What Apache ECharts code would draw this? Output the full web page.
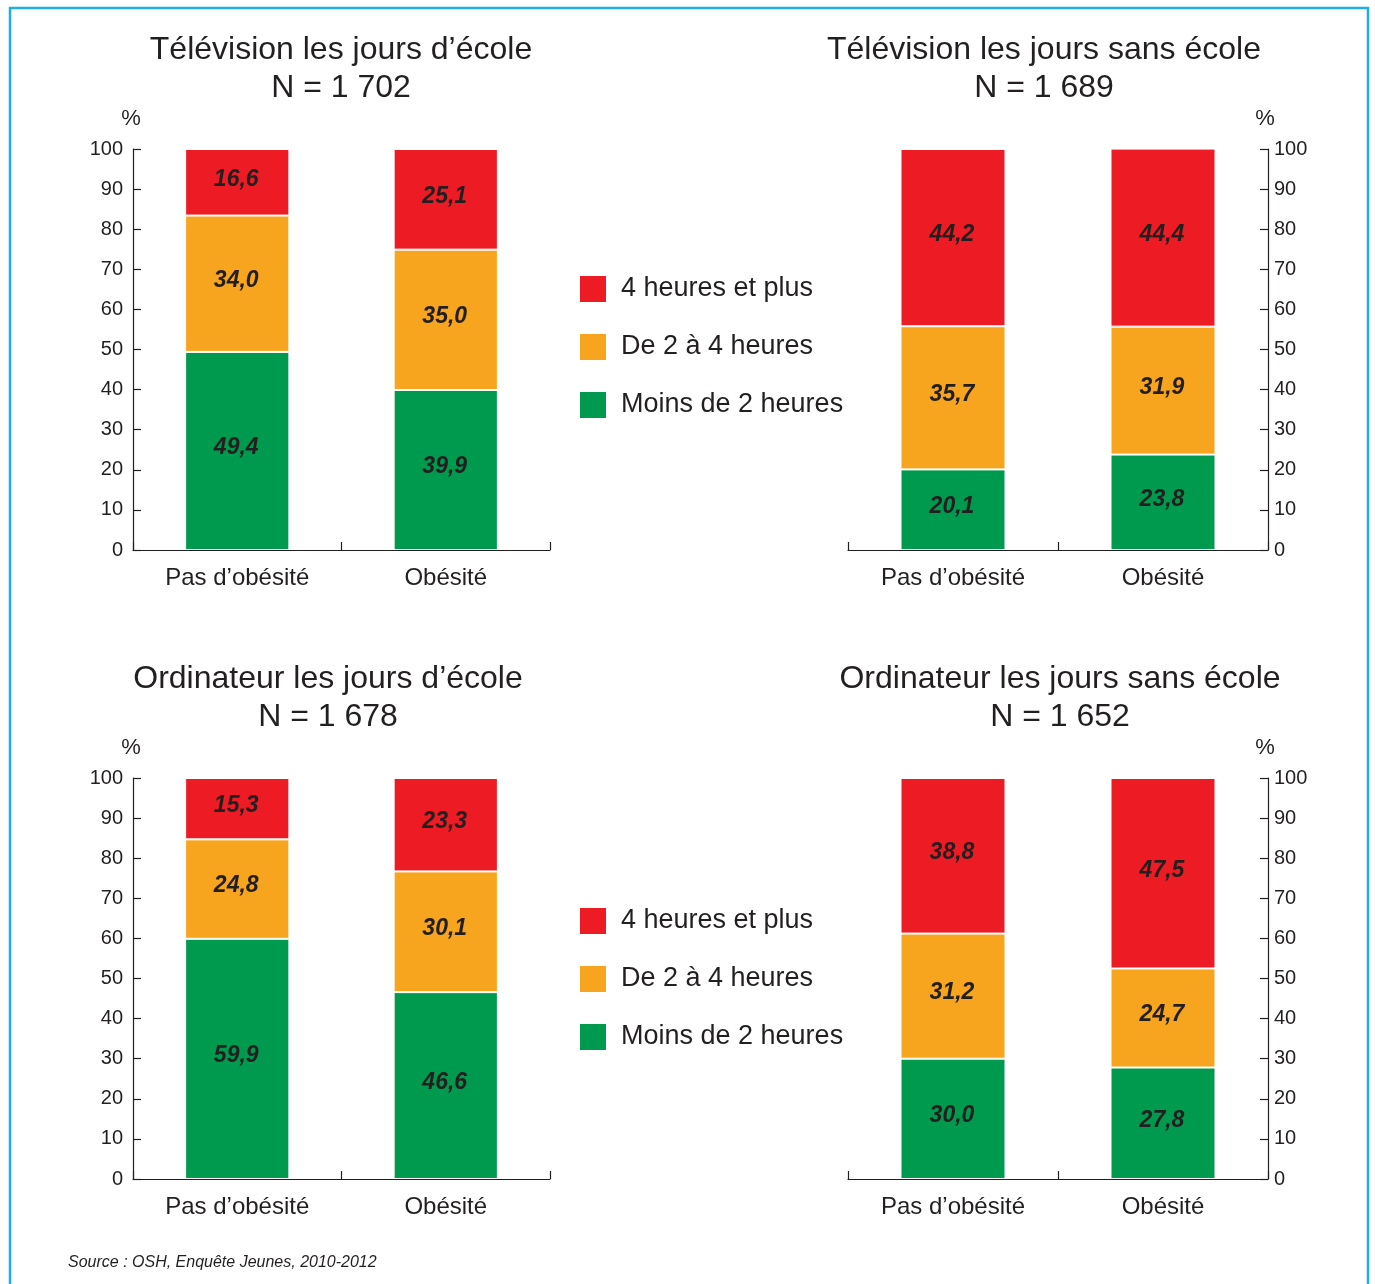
<!DOCTYPE html>
<html lang="fr">
<head>
<meta charset="utf-8">
<title>Temps d'écran et obésité</title>
<script src="https://cdn.jsdelivr.net/npm/echarts@6/dist/echarts.min.js"></script>
<style>
  html, body { margin: 0; padding: 0; background: #fff; }
  #chart { width: 1375px; height: 1284px; }
</style>
</head>
<body>
<div id="chart"></div>
<script>
// Categories and tick labels
const categories = ['Pas d’obésité', 'Obésité'];
const yTicks = [0, 10, 20, 30, 40, 50, 60, 70, 80, 90, 100];

// Panels: TV school days, TV non-school days, computer school days, computer non-school days
const panelTitles = [
  'Télévision les jours d’école',
  'Télévision les jours sans école',
  'Ordinateur les jours d’école',
  'Ordinateur les jours sans école'
];
const panelN = ['N = 1 702', 'N = 1 689', 'N = 1 678', 'N = 1 652'];

// Shares (%) per panel, [Pas d'obésité, Obésité]
const moinsDe2h = [[49.4, 39.9], [20.1, 23.8], [59.9, 46.6], [30.0, 27.8]];
const de2a4h    = [[34.0, 35.0], [35.7, 31.9], [24.8, 30.1], [31.2, 24.7]];
const plusDe4h  = [[16.6, 25.1], [44.2, 44.4], [15.3, 23.3], [38.8, 47.5]];

const seriesNames = ['Moins de 2 heures', 'De 2 à 4 heures', '4 heures et plus'];
const legendOrder = ['4 heures et plus', 'De 2 à 4 heures', 'Moins de 2 heures'];
const colors = { 'Moins de 2 heures': '#009A4E', 'De 2 à 4 heures': '#F7A51E', '4 heures et plus': '#ED1C24' };

const ink = '#231F20';
const font = '"Liberation Sans", Arial, Helvetica, sans-serif';

// Layout of the four plotting areas
const grids = [
  { left: 133, top: 149, width: 417, height: 401 },
  { left: 848, top: 149, width: 420, height: 401 },
  { left: 133, top: 778, width: 417, height: 401 },
  { left: 848, top: 778, width: 420, height: 401 }
];
const titleCenters = [341, 1044, 328, 1060];
const titleTops = [31, 31, 660, 660];

const chart = echarts.init(document.getElementById('chart'), null, { renderer: 'canvas' });

const fmt = v => v.toFixed(1).replace('.', ',');

const xAxes = grids.map((g, i) => ({
  type: 'category',
  gridIndex: i,
  data: categories,
  axisLine: { show: true, lineStyle: { color: ink, width: 1.2 } },
  axisTick: { show: true, inside: true, length: 8, lineStyle: { color: ink, width: 1.2 } },
  axisLabel: { color: ink, fontSize: 24, fontFamily: font, margin: 16 }
}));

const yAxes = grids.map((g, i) => ({
  type: 'value',
  gridIndex: i,
  position: (i % 2 === 0) ? 'left' : 'right',
  min: 0, max: 100, interval: 10,
  name: '%',
  nameLocation: 'end',
  nameGap: 19,
  nameTextStyle: {
    color: ink, fontSize: 22, fontFamily: font, align: 'center',
    padding: (i % 2 === 0) ? [0, 4, 0, 0] : [0, 6, 0, 0]
  },
  axisLine: { show: true, lineStyle: { color: ink, width: 1.2 } },
  axisTick: { show: true, inside: true, length: 8, lineStyle: { color: ink, width: 1.2 } },
  axisLabel: {
    color: ink, fontSize: 20, fontFamily: font, margin: (i % 2 === 0) ? 10 : 6,
    formatter: v => yTicks.includes(v) ? String(v) : ''
  },
  splitLine: { show: false }
}));

const stacks = [moinsDe2h, de2a4h, plusDe4h];
const series = [];
grids.forEach((g, p) => {
  seriesNames.forEach((name, s) => {
    series.push({
      name,
      type: 'bar',
      xAxisIndex: p,
      yAxisIndex: p,
      stack: 'panel' + p,
      barWidth: '50%',
      data: stacks[s][p],
      itemStyle: { color: colors[name], borderColor: '#fff', borderWidth: 1 },
      label: {
        show: true,
        position: 'inside',
        offset: [-1, -3],
        color: ink,
        fontSize: 23,
        fontWeight: 'bold',
        fontStyle: 'italic',
        fontFamily: font,
        formatter: d => fmt(d.value)
      },
      emphasis: { disabled: true }
    });
  });
});

const titles = panelTitles.map((t, i) => ({
  text: t + '\n' + panelN[i],
  left: titleCenters[i],
  top: titleTops[i],
  padding: 0,
  textAlign: 'center',
  textStyle: { color: ink, fontSize: 32, fontWeight: 'normal', fontFamily: font, lineHeight: 38, align: 'center' }
}));

const legendCommon = {
  orient: 'vertical',
  left: 578,
  padding: 0,
  data: legendOrder,
  icon: 'rect',
  itemWidth: 28,
  itemHeight: 28,
  itemGap: 28,
  selectedMode: false,
  textStyle: { color: ink, fontSize: 27, fontFamily: font, lineHeight: 28, padding: [0, 0, 0, 9] }
};

chart.setOption({
  animation: false,
  color: [colors['Moins de 2 heures'], colors['De 2 à 4 heures'], colors['4 heures et plus']],
  title: titles,
  legend: [
    Object.assign({}, legendCommon, { top: 274 }),
    Object.assign({}, legendCommon, { top: 906 })
  ],
  grid: grids,
  xAxis: xAxes,
  yAxis: yAxes,
  series,
  graphic: [
    {
      type: 'rect',
      shape: { x: 10, y: 8, width: 1358, height: 1320 },
      style: { fill: 'none', stroke: '#1DAEE8', lineWidth: 2.5 },
      silent: true
    },
    {
      type: 'text',
      left: 68,
      top: 1255,
      style: {
        text: 'Source : OSH, Enquête Jeunes, 2010-2012',
        fill: ink,
        fontSize: 16,
        fontStyle: 'italic',
        fontFamily: font
      },
      silent: true
    }
  ]
});
</script>
</body>
</html>
